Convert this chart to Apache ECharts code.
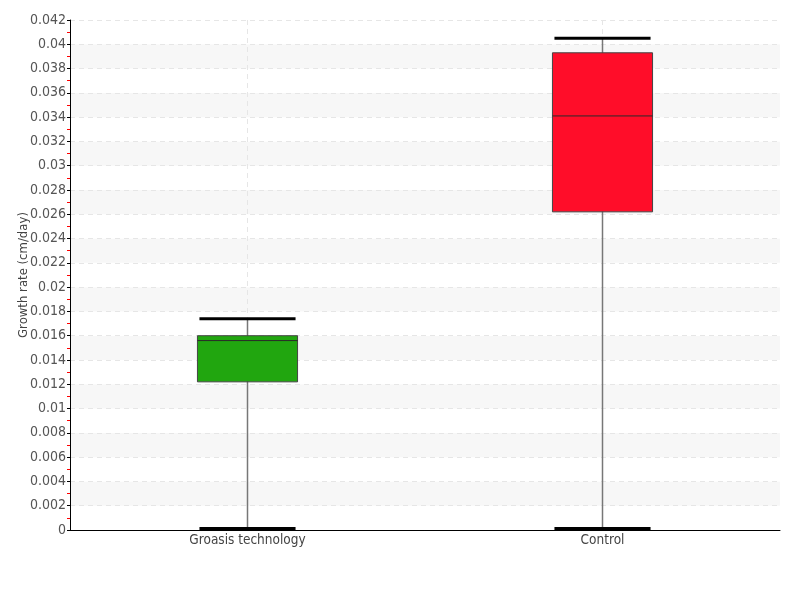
<!DOCTYPE html>
<html>
<head>
<meta charset="utf-8">
<script src="https://cdn.jsdelivr.net/npm/echarts@6/dist/echarts.min.js"></script>
<style>html,body{margin:0;padding:0;background:#fff}#chart{width:800px;height:600px}</style>
</head>
<body>
<div id="chart"></div>
<script>
const categories = ['Groasis technology', 'Control'];
const lowValues = [0, 0];
const q1Values = [0.0122, 0.0262];
const medianValues = [0.0156, 0.0341];
const q3Values = [0.0160, 0.0393];
const highValues = [0.0174, 0.0405];
const boxColors = ['#21a60f', '#ff0d29'];
const yTickMin = 0, yTickMax = 0.042, yTickStep = 0.002;

const FONT = 'DejaVu Sans Condensed';
const data = categories.map((c, i) => [i, lowValues[i], q1Values[i], medianValues[i], q3Values[i], highValues[i]]);

const chart = echarts.init(document.getElementById('chart'));
chart.setOption({
  animation: false,
  backgroundColor: '#ffffff',
  grid: { left: 70, right: 20, top: 20, bottom: 70, containLabel: false, outerBoundsMode: 'none' },
  xAxis: {
    type: 'category',
    data: categories,
    boundaryGap: true,
    axisLine: { lineStyle: { color: '#000', width: 1 } },
    axisTick: { show: false },
    axisLabel: { color: '#444', fontFamily: FONT, fontSize: 13.5, margin: 3 },
    splitLine: { show: true, alignWithLabel: true, lineStyle: { color: '#e6e6e6', type: [5, 4] } }
  },
  yAxis: {
    type: 'value',
    min: yTickMin, max: yTickMax, interval: yTickStep,
    name: 'Growth rate (cm/day)',
    nameLocation: 'middle',
    nameGap: 40,
    nameMoveOverlap: false,
    nameTextStyle: { color: '#444', fontFamily: FONT, fontSize: 13 },
    axisLine: { show: true, lineStyle: { color: '#000', width: 1 } },
    axisTick: { show: true, length: 3, lineStyle: { color: '#000' } },
    minorTick: { show: true, splitNumber: 2, length: 3, lineStyle: { color: '#ff0000', width: 1 } },
    axisLabel: { color: '#555', fontFamily: FONT, fontSize: 14, margin: 4 },
    splitLine: { show: true, lineStyle: { color: '#e6e6e6', type: [5, 4] } },
    splitArea: { show: true, areaStyle: { color: ['#ffffff', '#f7f7f7'] } }
  },
  series: [{
    type: 'custom',
    data: data,
    encode: { x: 0, y: [1, 2, 3, 4, 5] },
    renderItem: function (params, api) {
      const i = params.dataIndex;
      const x = api.value(0);
      const pLow = api.coord([x, api.value(1)]);
      const pQ1 = api.coord([x, api.value(2)]);
      const pMed = api.coord([x, api.value(3)]);
      const pQ3 = api.coord([x, api.value(4)]);
      const pHigh = api.coord([x, api.value(5)]);
      const bw = api.size([1, 0])[0] * 0.282;
      const cw = bw * 0.96;
      const cx = pLow[0];
      return {
        type: 'group',
        children: [
          { type: 'line', shape: { x1: cx, y1: pLow[1], x2: cx, y2: pHigh[1] }, style: { stroke: '#777', lineWidth: 1.5 } },
          { type: 'rect', shape: { x: cx - bw / 2, y: pQ3[1], width: bw, height: pQ1[1] - pQ3[1] }, style: { fill: boxColors[i], stroke: '#444', lineWidth: 1 } },
          { type: 'line', shape: { x1: cx - bw / 2, y1: pMed[1], x2: cx + bw / 2, y2: pMed[1] }, style: { stroke: '#2a2a2a', lineWidth: 1 } },
          { type: 'line', shape: { x1: cx - cw / 2, y1: pHigh[1], x2: cx + cw / 2, y2: pHigh[1] }, style: { stroke: '#000', lineWidth: 3 } },
          { type: 'line', shape: { x1: cx - cw / 2, y1: pLow[1] - 1.5, x2: cx + cw / 2, y2: pLow[1] - 1.5 }, style: { stroke: '#000', lineWidth: 3 } }
        ]
      };
    }
  }]
});
</script>
</body>
</html>
